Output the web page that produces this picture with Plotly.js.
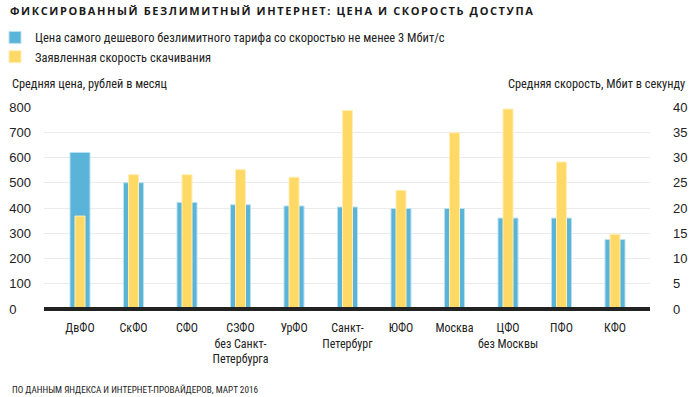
<!DOCTYPE html>
<html>
<head>
<meta charset="utf-8">
<script src="https://cdn.plot.ly/plotly-3.0.1.min.js"></script>
<style>
html,body{margin:0;padding:0;background:#fff;}
#chart{width:699px;height:397px;}
.gtitle{letter-spacing:1.6px;}
</style>
</head>
<body>
<div id="chart"></div>
<script>
var regions = ["ДвФО","СкФО","СФО","СЗФО<br>без Санкт-<br>Петербурга","УрФО","Санкт-<br>Петербург","ЮФО","Москва","ЦФО<br>без Москвы","ПФО","КФО"];
var price = [620, 500, 422, 413, 408, 404, 398, 398, 360, 360, 275];
var speed = [18.4, 26.6, 26.6, 27.6, 26.1, 39.3, 23.5, 34.9, 39.6, 29.1, 14.8];
var priceTicks = [0,100,200,300,400,500,600,700,800];
var priceTickText = ["0\u2007\u2007","100","200","300","400","500","600","700","800"];
var speedTicks = [0,5,10,15,20,25,30,35,40];
var seriesNames = ["Цена самого дешевого безлимитного тарифа со скоростью не менее 3 Мбит/с","Заявленная скорость скачивания"];

var narrow = "Liberation Sans Narrow, Roboto Condensed, DejaVu Sans Condensed, Arial Narrow, sans-serif";
var idx = regions.map(function(_, i){ return i; });

var PW = 650; // paper width in px (margin l=0, r=49)
var PH = 202; // paper height in px (t=107, b=88)

var traces = [
  {type:"bar", x: idx, y: price, name: seriesNames[0], yaxis:"y", width:0.374,
   marker:{color:"#5ab4da", line:{color:"#b9e0f0", width:1}}, hoverinfo:"y"},
  {type:"bar", x: idx, y: speed, name: seriesNames[1], yaxis:"y2", width:0.187,
   marker:{color:"#ffd966", line:{color:"#ffeeb5", width:1}}, hoverinfo:"y"}
];

var layout = {
  width:699, height:397,
  margin:{l:0, r:49, t:107, b:88, autoexpand:false},
  paper_bgcolor:"#fff", plot_bgcolor:"#fff",
  title:{text:"ФИКСИРОВАННЫЙ БЕЗЛИМИТНЫЙ ИНТЕРНЕТ: ЦЕНА И СКОРОСТЬ ДОСТУПА",
         font:{family:"Open Sans, DejaVu Sans, sans-serif", size:11, color:"#1a1a1a", weight:700},
         xref:"container", x:10/699, xanchor:"left", yref:"container", y:1-11/397, yanchor:"middle"},
  showlegend:true,
  legend:{orientation:"v", x:-5/PW, xanchor:"left", y:1.417, yanchor:"top",
          font:{family:narrow, size:12.5, color:"#222"}, bgcolor:"rgba(0,0,0,0)",
          tracegroupgap:0, itemwidth:30, traceorder:"normal"},
  xaxis:{domain:[44/PW, 1], range:[-0.673, 10.654], tickmode:"array", tickvals:idx, ticktext:regions,
         showgrid:false, zeroline:false, showline:false, ticks:"",
         tickfont:{family:narrow, size:12, color:"#222"}, ticklabelstandoff:10, fixedrange:true},
  yaxis:{range:[0,800], tickmode:"array", tickvals:priceTicks, ticktext:priceTickText, anchor:"x", side:"left",
         showgrid:true, gridcolor:"#ebebeb", gridwidth:1,
         zeroline:true, zerolinecolor:"#222", zerolinewidth:4, zerolinelayer:"above traces",
         showline:false, ticks:"", ticklabelstandoff:12,
         tickfont:{family:"Liberation Sans, Arial, sans-serif", size:13, color:"#222"}, fixedrange:true},
  yaxis2:{range:[0,40], tickvals:speedTicks, overlaying:"y", side:"right", anchor:"x",
          showgrid:false, zeroline:false, showline:false, ticks:"", ticklabelstandoff:22,
          tickfont:{family:"Liberation Sans, Arial, sans-serif", size:13, color:"#222"}, fixedrange:true},
  annotations:[
    {text:"Средняя цена, рублей в месяц", xref:"paper", yref:"paper", x:10/PW, y:(309-84)/PH,
     xanchor:"left", yanchor:"middle", showarrow:false, font:{family:narrow, size:12.3, color:"#222"}},
    {text:"Средняя скорость, Мбит в секунду", xref:"paper", yref:"paper", x:687/PW, y:(309-84)/PH,
     xanchor:"right", yanchor:"middle", showarrow:false, font:{family:narrow, size:12.3, color:"#222"}},
    {text:"ПО ДАННЫМ ЯНДЕКСА И ИНТЕРНЕТ-ПРОВАЙДЕРОВ, МАРТ 2016", xref:"paper", yref:"paper", x:10/PW, y:(309-389)/PH,
     xanchor:"left", yanchor:"middle", showarrow:false, font:{family:narrow, size:9.2, color:"#222"}}
  ]
};

Plotly.newPlot("chart", traces, layout, {displayModeBar:false, staticPlot:true});
</script>
</body>
</html>
